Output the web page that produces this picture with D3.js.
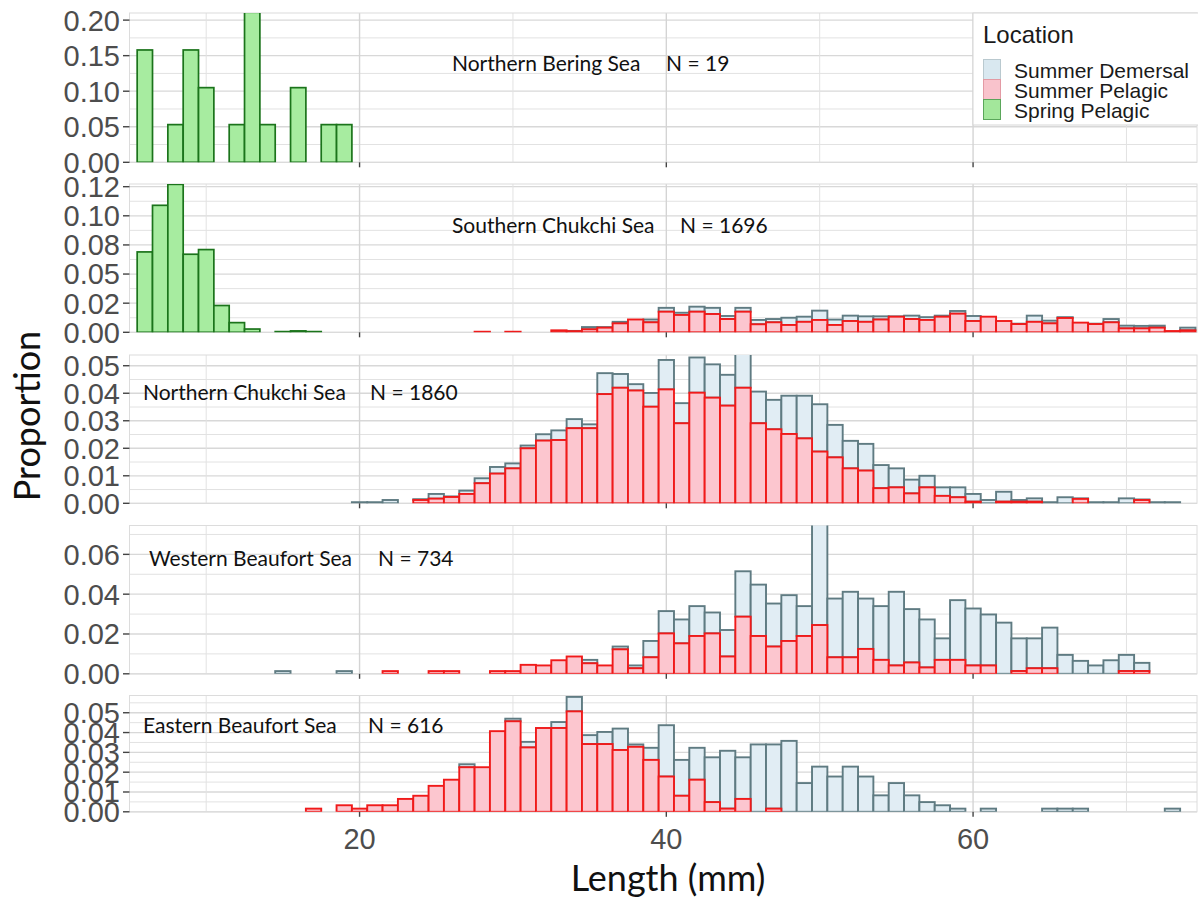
<!DOCTYPE html>
<html><head><meta charset="utf-8">
<script src="https://cdn.jsdelivr.net/npm/d3@7"></script>
<style>html,body{margin:0;padding:0;background:#fff;}svg{display:block;}</style>
</head><body>
<svg id="chart" width="1198" height="901"></svg>
<script>
// ---------------- DATA ----------------
const seriesNames = ["Summer Demersal", "Summer Pelagic", "Spring Pelagic"];
const panelNames = ["Northern Bering Sea", "Southern Chukchi Sea", "Northern Chukchi Sea", "Western Beaufort Sea", "Eastern Beaufort Sea"];
const panelN = ["N = 19", "N = 1696", "N = 1860", "N = 734", "N = 616"];
const xTicks = [20, 40, 60];
const xMinor = [10, 30, 50, 70];

// y ticks per panel
const yTicks = [
  [0, 0.05, 0.10, 0.15, 0.20],
  [0, 0.025, 0.05, 0.075, 0.10, 0.125],
  [0, 0.01, 0.02, 0.03, 0.04, 0.05],
  [0, 0.02, 0.04, 0.06],
  [0, 0.01, 0.02, 0.03, 0.04, 0.05]
];
const yTickLabels = [
  ["0.00", "0.05", "0.10", "0.15", "0.20"],
  ["0.00", "0.02", "0.05", "0.08", "0.10", "0.12"],
  ["0.00", "0.01", "0.02", "0.03", "0.04", "0.05"],
  ["0.00", "0.02", "0.04", "0.06"],
  ["0.00", "0.01", "0.02", "0.03", "0.04", "0.05"]
];
const yMax = [0.21, 0.1273, 0.0539, 0.0745, 0.0587];

// [length bin (mm), proportion]
const springNBS = [[6,0.158],[8,0.053],[9,0.158],[10,0.105],[12,0.053],[13,0.211],[14,0.053],[16,0.105],[18,0.053],[19,0.053]];
const springSCS = [[6,0.069],[7,0.109],[8,0.127],[9,0.067],[10,0.071],[11,0.023],[12,0.0083],[13,0.0028],[15,0.0006],[16,0.0012],[17,0.0006]];

const pelagicSCS = [[28,0.0005],[30,0.0005],[33,0.0017],[34,0.001],[35,0.0026],[36,0.004],[37,0.0077],[38,0.011],[39,0.0086],[40,0.0177],[41,0.0149],[42,0.0177],[43,0.0157],[44,0.0114],[45,0.0177],[46,0.0069],[47,0.0086],[48,0.0063],[49,0.009],[50,0.0106],[51,0.0063],[52,0.0097],[53,0.009],[54,0.011],[55,0.0134],[56,0.0114],[57,0.0106],[58,0.0134],[59,0.016],[60,0.0097],[61,0.0134],[62,0.0097],[63,0.0071],[64,0.009],[65,0.0077],[66,0.0123],[67,0.0083],[68,0.0071],[69,0.0086],[70,0.0034],[71,0.0034],[72,0.004],[73,0.0011],[74,0.0017]];
const demersalSCS = [[34,0.0002],[35,0.0019],[36,0.0005],[37,0.0013],[39,0.0024],[40,0.0033],[41,0.0019],[42,0.0043],[43,0.0053],[44,0.0026],[45,0.0033],[46,0.0037],[47,0.0028],[48,0.0062],[49,0.0044],[50,0.008],[51,0.0046],[52,0.0046],[53,0.0047],[54,0.0027],[55,0.0003],[56,0.0029],[57,0.0024],[58,0.0009],[59,0.0023],[60,0.0043],[63,0.0003],[64,0.0053],[65,0.0023],[66,0.0007],[68,0.0003],[69,0.0028],[70,0.0023],[71,0.0021],[72,0.0017],[74,0.0023]];

const pelagicNCS = [[24,0.0012],[25,0.0017],[26,0.0023],[27,0.0034],[28,0.0073],[29,0.0108],[30,0.0127],[31,0.020],[32,0.0228],[33,0.023],[34,0.0273],[35,0.0273],[36,0.0397],[37,0.042],[38,0.041],[39,0.0351],[40,0.0414],[41,0.0291],[42,0.0402],[43,0.0384],[44,0.0355],[45,0.042],[46,0.0291],[47,0.0269],[48,0.0252],[49,0.0236],[50,0.0188],[51,0.0167],[52,0.0127],[53,0.0119],[54,0.0055],[55,0.0058],[56,0.0036],[57,0.0058],[58,0.0027],[59,0.0022],[60,0.0006],[62,0.0006],[63,0.0006],[64,0.0006],[67,0.0016],[71,0.0012]];
const demersalNCS = [[20,0.0004],[21,0.0004],[22,0.0012],[24,0.0003],[25,0.0017],[26,0.0002],[27,0.0012],[28,0.0018],[29,0.0024],[30,0.0018],[31,0.001],[32,0.0023],[33,0.0035],[34,0.0033],[35,0.0014],[36,0.0076],[37,0.005],[38,0.0023],[39,0.005],[40,0.0107],[41,0.0073],[42,0.0128],[43,0.0121],[44,0.0112],[45,0.015],[46,0.0115],[47,0.0107],[48,0.0139],[49,0.0155],[50,0.0172],[51,0.0118],[52,0.01],[53,0.0097],[54,0.0084],[55,0.0069],[56,0.005],[57,0.0042],[58,0.0031],[59,0.0036],[60,0.0028],[61,0.0012],[62,0.0036],[63,0.0006],[64,0.0012],[65,0.0004],[66,0.0022],[67,0.0002],[68,0.0004],[69,0.0004],[70,0.0018],[71,0.0002],[72,0.0004],[73,0.0004]];

const pelagicWBS = [[22,0.00136],[25,0.00136],[26,0.00136],[29,0.00136],[30,0.00136],[31,0.0045],[32,0.0042],[33,0.0068],[34,0.0087],[35,0.0053],[36,0.0042],[37,0.0123],[38,0.0028],[39,0.0083],[40,0.0203],[41,0.0153],[42,0.019],[43,0.0203],[44,0.0087],[45,0.0287],[46,0.019],[47,0.0137],[48,0.0165],[49,0.019],[50,0.0245],[51,0.0083],[52,0.0083],[53,0.0125],[54,0.007],[55,0.0042],[56,0.0057],[57,0.0032],[58,0.007],[59,0.007],[60,0.0042],[61,0.0042],[63,0.0014],[64,0.0028],[65,0.0028],[70,0.0014],[71,0.0014]];
const demersalWBS = [[15,0.00136],[19,0.00136],[35,0.0017],[37,0.0014],[38,0.0014],[39,0.0082],[40,0.0112],[41,0.012],[42,0.015],[43,0.0105],[44,0.0133],[45,0.0228],[46,0.0258],[47,0.0216],[48,0.023],[49,0.015],[50,0.0535],[51,0.0295],[52,0.0329],[53,0.0253],[54,0.027],[55,0.037],[56,0.0268],[57,0.0241],[58,0.0108],[59,0.03],[60,0.0286],[61,0.0256],[62,0.0257],[63,0.0164],[64,0.015],[65,0.0204],[66,0.0095],[67,0.0065],[68,0.0042],[69,0.0068],[70,0.0081],[71,0.0041]];

const pelagicEBS = [[17,0.0016],[19,0.0033],[20,0.0016],[21,0.0033],[22,0.0033],[23,0.0065],[24,0.0081],[25,0.0131],[26,0.0162],[27,0.0225],[28,0.0225],[29,0.0407],[30,0.0457],[31,0.0325],[32,0.0423],[33,0.0423],[34,0.0507],[35,0.0342],[36,0.0342],[37,0.0312],[38,0.0328],[39,0.0262],[40,0.0178],[41,0.0081],[42,0.0162],[43,0.0049],[44,0.0016],[45,0.0065],[47,0.0016]];
const demersalEBS = [[27,0.0015],[30,0.0013],[31,0.0028],[33,0.003],[34,0.0073],[35,0.0045],[36,0.0061],[37,0.0108],[38,0.0012],[39,0.0061],[40,0.0259],[41,0.0181],[42,0.0161],[43,0.0226],[44,0.0292],[45,0.021],[46,0.034],[47,0.0324],[48,0.0358],[49,0.0145],[50,0.0228],[51,0.0178],[52,0.0228],[53,0.0178],[54,0.0083],[55,0.0145],[56,0.0083],[57,0.0049],[58,0.0033],[59,0.0016],[61,0.0016],[65,0.0016],[66,0.0016],[67,0.0016],[73,0.0016]];

const panelSpring = [springNBS, springSCS, [], [], []];
const panelPelagic = [[], pelagicSCS, pelagicNCS, pelagicWBS, pelagicEBS];
const panelDemersal = [[], demersalSCS, demersalNCS, demersalWBS, demersalEBS];

// ---------------- LAYOUT / STYLE ----------------
const plotLeft = 129.5, plotRight = 1197;
const panelTop = [13, 184, 355, 525.5, 695.5];
const panelBottom = [162.3, 332.3, 503.3, 673.8, 811.8];
const labelPos = [
  {nameX: 452, nX: 666, y: 71},
  {nameX: 452, nX: 680, y: 233},
  {nameX: 143, nX: 370, y: 399.5},
  {nameX: 149, nX: 378, y: 566},
  {nameX: 143, nX: 368, y: 732.5}
];
const colors = {
  demersal: {fill: "#e1edf4", stroke: "#5f7b82"},
  pelagic: {fill: "#fcc6cf", stroke: "#f01a1a"},
  spring: {fill: "#a7eca0", stroke: "#1b741b"}
};

const svg = d3.select("#chart");
const x = d3.scaleLinear().domain([5, 74.6]).range([plotLeft, plotRight]);
const tickFont = "'Liberation Sans', Arial, sans-serif";
const labFont = "Lato, 'Open Sans', sans-serif";

const defs = svg.append("defs");

panelNames.forEach((name, i) => {
  const y = d3.scaleLinear().domain([0, yMax[i]]).range([panelBottom[i], panelTop[i]]);
  const g = svg.append("g");
  defs.append("clipPath").attr("id", "clip" + i).append("rect")
    .attr("x", plotLeft).attr("y", panelTop[i]).attr("width", plotRight - plotLeft).attr("height", panelBottom[i] - panelTop[i]);

  const tks = yTicks[i];
  const step = tks[1] - tks[0];
  const minor = [];
  for (let k = 0; k < tks.length + 1; k++) { const v = tks[0] + step * (k + 0.5); if (v < yMax[i]) minor.push(v); }
  g.selectAll(".hmin").data(minor).join("line")
    .attr("x1", plotLeft).attr("x2", plotRight).attr("y1", d => y(d)).attr("y2", d => y(d))
    .attr("stroke", "#e2e2e2").attr("stroke-width", 1);
  g.selectAll(".hmaj").data(tks).join("line")
    .attr("x1", plotLeft).attr("x2", plotRight).attr("y1", d => y(d)).attr("y2", d => y(d))
    .attr("stroke", "#d8d8d8").attr("stroke-width", 1.3);
  g.selectAll(".vmin").data(xMinor).join("line")
    .attr("x1", d => x(d)).attr("x2", d => x(d)).attr("y1", panelTop[i]).attr("y2", panelBottom[i])
    .attr("stroke", "#e2e2e2").attr("stroke-width", 1);
  g.selectAll(".vmaj").data(xTicks).join("line")
    .attr("x1", d => x(d)).attr("x2", d => x(d)).attr("y1", panelTop[i]).attr("y2", panelBottom[i])
    .attr("stroke", "#d4d4d4").attr("stroke-width", 1.4);
  g.append("rect").attr("x", plotLeft).attr("y", panelTop[i]).attr("width", plotRight - plotLeft)
    .attr("height", panelBottom[i] - panelTop[i]).attr("fill", "none").attr("stroke", "#dcdcdc").attr("stroke-width", 1);

  const bars = g.append("g").attr("clip-path", "url(#clip" + i + ")");
  const pelMap = new Map(panelPelagic[i]);
  bars.selectAll(".dem").data(panelDemersal[i]).join("rect")
    .attr("x", d => x(d[0] - 0.5)).attr("width", d => x(d[0] + 0.5) - x(d[0] - 0.5))
    .attr("y", d => y((pelMap.get(d[0]) || 0) + d[1]))
    .attr("height", d => y(pelMap.get(d[0]) || 0) - y((pelMap.get(d[0]) || 0) + d[1]))
    .attr("fill", colors.demersal.fill).attr("stroke", colors.demersal.stroke).attr("stroke-width", 1.9);
  bars.selectAll(".pel").data(panelPelagic[i]).join("rect")
    .attr("x", d => x(d[0] - 0.5)).attr("width", d => x(d[0] + 0.5) - x(d[0] - 0.5))
    .attr("y", d => y(d[1])).attr("height", d => y(0) - y(d[1]))
    .attr("fill", colors.pelagic.fill).attr("stroke", colors.pelagic.stroke).attr("stroke-width", 1.9);
  bars.selectAll(".spr").data(panelSpring[i]).join("rect")
    .attr("x", d => x(d[0] - 0.5)).attr("width", d => x(d[0] + 0.5) - x(d[0] - 0.5))
    .attr("y", d => y(d[1])).attr("height", d => y(0) - y(d[1]))
    .attr("fill", colors.spring.fill).attr("stroke", colors.spring.stroke).attr("stroke-width", 1.7);

  g.selectAll(".ytk").data(tks).join("line")
    .attr("x1", 123).attr("x2", plotLeft).attr("y1", d => y(d)).attr("y2", d => y(d))
    .attr("stroke", "#444").attr("stroke-width", 1.4);
  g.selectAll(".ylab").data(tks).join("text")
    .attr("x", 120).attr("y", d => y(d)).attr("dy", "0.36em")
    .attr("text-anchor", "end").attr("font-family", tickFont).attr("font-size", 29)
    .attr("fill", "#4d4d4d").text((d, k) => yTickLabels[i][k]);
  g.selectAll(".xtk").data(xTicks).join("line")
    .attr("x1", d => x(d)).attr("x2", d => x(d)).attr("y1", panelBottom[i]).attr("y2", panelBottom[i] + 5)
    .attr("stroke", "#444").attr("stroke-width", 1.4);

  g.append("text").attr("x", labelPos[i].nameX).attr("y", labelPos[i].y)
    .attr("font-family", labFont).attr("font-size", 21).attr("fill", "#111").text(name);
  g.append("text").attr("x", labelPos[i].nX).attr("y", labelPos[i].y)
    .attr("font-family", labFont).attr("font-size", 21).attr("fill", "#111").text(panelN[i]);
});

svg.selectAll(".xlab").data(xTicks).join("text")
  .attr("x", d => x(d)).attr("y", 849).attr("text-anchor", "middle")
  .attr("font-family", tickFont).attr("font-size", 29).attr("fill", "#4d4d4d").text(d => d);

svg.append("text").attr("x", 668).attr("y", 891).attr("text-anchor", "middle")
  .attr("font-family", labFont).attr("font-size", 36).attr("fill", "#111").text("Length (mm)");
svg.append("text").attr("transform", "translate(40,416) rotate(-90)").attr("text-anchor", "middle")
  .attr("font-family", labFont).attr("font-size", 36).attr("fill", "#111").text("Proportion");

const lg = svg.append("g");
lg.append("rect").attr("x", 973).attr("y", 13).attr("width", 226).attr("height", 112)
  .attr("fill", "#fff").attr("stroke", "#d6d6d6").attr("stroke-width", 1);
lg.append("text").attr("x", 983).attr("y", 43).attr("font-family", tickFont).attr("font-size", 24)
  .attr("fill", "#1a1a1a").text("Location");
const keyStyles = [
  {fill: "#d9e8f0", stroke: "#b9c9cf"},
  {fill: "#f9c3cc", stroke: "#e39aa4"},
  {fill: "#a3e79b", stroke: "#5aa65a"}
];
seriesNames.forEach((s, k) => {
  lg.append("rect").attr("x", 983.5).attr("y", 59.5 + k * 20).attr("width", 17).attr("height", 20)
    .attr("fill", keyStyles[k].fill).attr("stroke", keyStyles[k].stroke).attr("stroke-width", 1);
  lg.append("text").attr("x", 1014).attr("y", 70 + k * 20).attr("dy", "0.36em")
    .attr("font-family", tickFont).attr("font-size", 21).attr("fill", "#1a1a1a").text(s);
});
</script>
</body></html>
